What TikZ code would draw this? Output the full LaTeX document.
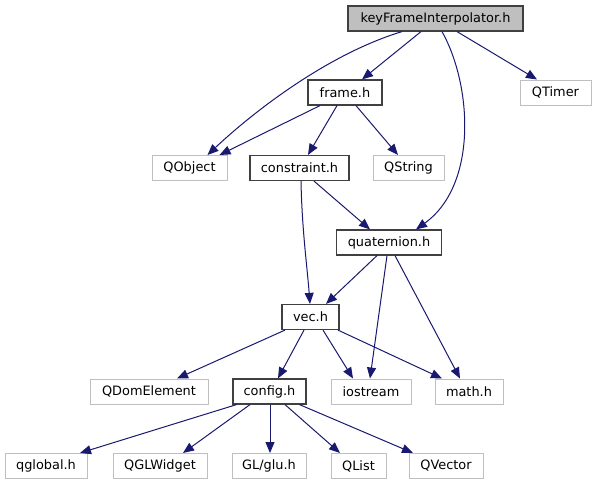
\documentclass[tikz,border=0pt]{standalone}
\usepackage{fontspec}
\setmainfont{DejaVu Sans}
\usetikzlibrary{arrows.meta,positioning}
\definecolor{edgeblue}{RGB}{25,25,112}
\definecolor{extgray}{RGB}{191,191,191}
\definecolor{boxdark}{RGB}{64,64,64}
\tikzset{
 incl/.style={rectangle,draw=boxdark,line width=1.2pt,fill=white,minimum height=25pt,inner sep=0pt,font=\fontsize{12.9}{15}\selectfont},
 ext/.style={rectangle,draw=extgray,line width=1pt,fill=white,minimum height=25pt,inner sep=0pt,font=\fontsize{12.9}{15}\selectfont},
 arrow/.style={-{Triangle[length=11pt,width=9pt]},line width=1pt,draw=edgeblue}}
\begin{document}
\begin{tikzpicture}[x=1pt,y=-1pt]
\useasboundingbox (0,0) rectangle (597,485);
% header nodes
\node[incl,fill=extgray,minimum width=175pt] (key) at (435.5,18.5) {keyFrameInterpolator.h};
\node[incl,minimum width=74pt] (frame) at (345,92.5) {frame.h};
\node[ext,minimum width=71pt] (qtimer) at (555.5,92.5) {QTimer};
\node[ext,minimum width=75pt] (qobject) at (189.5,168) {QObject};
\node[incl,minimum width=99pt] (constraint) at (299.5,168) {constraint.h};
\node[ext,minimum width=71pt] (qstring) at (408.5,168) {QString};
\node[incl,minimum width=105pt] (quat) at (389,242.5) {quaternion.h};
\node[incl,minimum width=57pt] (vec) at (310.5,317) {vec.h};
\node[ext,minimum width=118pt] (qdom) at (149,391.5) {QDomElement};
\node[incl,minimum width=73pt] (config) at (269.5,391.5) {config.h};
\node[ext,minimum width=80pt] (iostream) at (371,391.5) {iostream};
\node[ext,minimum width=68pt] (math) at (469,391.5) {math.h};
\node[ext,minimum width=82pt] (qglobal) at (46,466) {qglobal.h};
\node[ext,minimum width=94pt] (qglwidget) at (160,466) {QGLWidget};
\node[ext,minimum width=74pt] (glu) at (269,466) {GL/glu.h};
\node[ext,minimum width=55pt] (qlist) at (358.5,466) {QList};
\node[ext,minimum width=74pt] (qvector) at (446,466) {QVector};
% includes
\draw[arrow] ([xshift=-33.5pt]key.south) .. controls (325,55) and (250,115) .. ([xshift=18pt]qobject.north);
\draw[arrow] ([xshift=-14.5pt]key.south) -- ([xshift=17pt]frame.north);
\draw[arrow] ([xshift=6.5pt]key.south) .. controls (472,85) and (478,185) .. ([xshift=27pt]quat.north);
\draw[arrow] ([xshift=21.5pt]key.south) -- ([xshift=-18.5pt]qtimer.north);
\draw[arrow] ([xshift=-25pt]frame.south) -- ([xshift=30pt]qobject.north);
\draw[arrow] ([xshift=-8pt]frame.south) -- ([xshift=8.5pt]constraint.north);
\draw[arrow] ([xshift=11pt]frame.south) -- ([xshift=-10.5pt]qstring.north);
\draw[arrow] ([xshift=1.5pt]constraint.south) .. controls (302,230) and (307,265) .. ([xshift=-0.5pt]vec.north);
\draw[arrow] ([xshift=14.5pt]constraint.south) -- ([xshift=-19pt]quat.north);
\draw[arrow] ([xshift=-12pt]quat.south) -- ([xshift=15.5pt]vec.north);
\draw[arrow] ([xshift=-2pt]quat.south) -- ([xshift=-1pt]iostream.north);
\draw[arrow] ([xshift=6pt]quat.south) -- ([xshift=-9pt]math.north);
\draw[arrow] ([xshift=-25.5pt]vec.south) -- ([xshift=28pt]qdom.north);
\draw[arrow] ([xshift=-6.5pt]vec.south) -- ([xshift=8.5pt]config.north);
\draw[arrow] ([xshift=12.5pt]vec.south) -- ([xshift=-18pt]iostream.north);
\draw[arrow] ([xshift=27.5pt]vec.south) -- ([xshift=-27pt]math.north);
\draw[arrow] ([xshift=-33pt]config.south) -- ([xshift=34pt]qglobal.north);
\draw[arrow] ([xshift=-19.5pt]config.south) -- ([xshift=23pt]qglwidget.north);
\draw[arrow] ([xshift=0.5pt]config.south) -- ([xshift=1pt]glu.north);
\draw[arrow] ([xshift=15.5pt]config.south) -- ([xshift=-18.5pt]qlist.north);
\draw[arrow] ([xshift=30pt]config.south) -- ([xshift=-33pt]qvector.north);
\end{tikzpicture}
\end{document}
